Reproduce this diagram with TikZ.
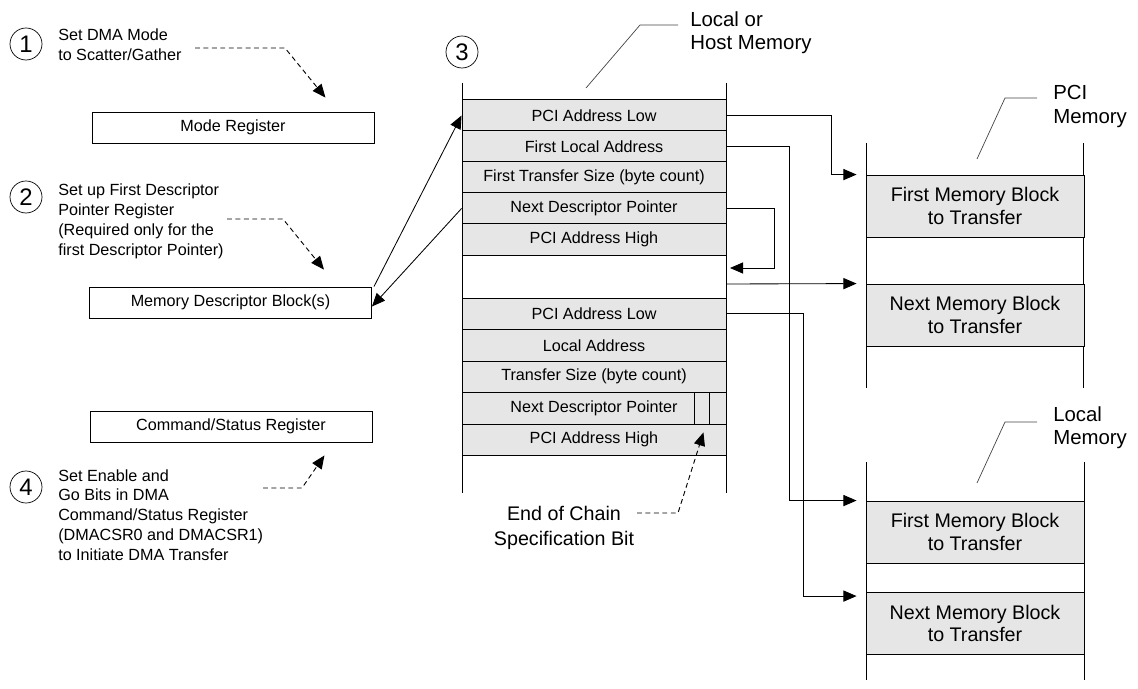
\documentclass[tikz,border=0pt]{standalone}
\usepackage{fontspec}
\setmainfont{Liberation Sans}
\usetikzlibrary{arrows.meta}
\definecolor{rowfill}{HTML}{E6E6E6}
\definecolor{leadline}{HTML}{444444}
\newcommand{\smallface}{\fontsize{11.5}{14.2}\selectfont}
\newcommand{\largeface}{\fontsize{14}{15.8}\selectfont}
\tikzset{
  regbox/.style={draw, line width=0.6pt, minimum width=7.05cm, minimum height=0.775cm, inner sep=0pt, font=\smallface},
  rowbox/.style={draw, fill=rowfill, line width=0.6pt, minimum width=6.6cm, minimum height=0.7875cm, inner sep=0pt, font=\smallface},
  blockbox/.style={draw, fill=rowfill, line width=0.6pt, minimum width=5.45cm, minimum height=1.55cm, inner sep=0pt, align=center, font=\largeface},
  stepnum/.style={circle, draw, line width=0.5pt, minimum size=0.8cm, inner sep=0pt, font=\fontsize{17}{17}\selectfont},
  steptext/.style={anchor=north west, align=left, inner sep=0pt, font=\smallface},
  memlabel/.style={anchor=north west, align=left, inner sep=0pt, font=\fontsize{14.5}{17}\selectfont},
  memwall/.style={line width=0.6pt},
  arr/.style={line width=0.6pt, -{Triangle[length=0.33cm, width=0.28cm]}},
  dasharr/.style={black, line width=0.65pt, dash pattern=on 3.5pt off 2.5pt, -{Triangle[length=0.33cm, width=0.28cm]}},
  leader/.style={line width=0.5pt, leadline}
}

\begin{document}
\begin{tikzpicture}[x=0.025cm, y=-0.025cm]
    \useasboundingbox (0,0) rectangle (1138,689);

    \node[stepnum] (n1) at (26,44) {1};
    \node[steptext] (t1) at (58,29) {Set DMA Mode\\to Scatter/Gather};
    \node[regbox] (modereg) at (233,127.5) {Mode Register};

    \node[stepnum] (n2) at (26,197) {2};
    \node[steptext] (t2) at (58,184) {Set up First Descriptor\\Pointer Register\\(Required only for the\\first Descriptor Pointer)};
    \node[regbox] (mdb) at (230.5,302.5) {Memory Descriptor Block(s)};

    \node[regbox] (csr) at (231,426.5) {Command/Status Register};
    \node[stepnum] (n4) at (26,487) {4};
    \node[steptext] (t4) at (58,469) {Set Enable and\\Go Bits in DMA\\Command/Status Register\\(DMACSR0 and DMACSR1)\\to Initiate DMA Transfer};

    \node[stepnum] (n3) at (462,52) {3};
    \node[memlabel] (hostlbl) at (690,11) {Local or\\Host Memory};
    \draw[leader] (586,88) -- (640,25) -- (678,25);
    \draw[memwall] (462,83) -- (462,493);
    \draw[memwall] (726,83) -- (726,493);

    \node[rowbox] (pal1) at (594,115.5) {PCI Address Low};
    \node[rowbox] (fla) at (594,146.5) {First Local Address};
    \node[rowbox] (fts) at (594,177.5) {First Transfer Size (byte count)};
    \node[rowbox] (ndp1) at (594,208.5) {Next Descriptor Pointer};
    \node[rowbox] (pah1) at (594,239.5) {PCI Address High};

    \node[rowbox] (pal2) at (594,313.75) {PCI Address Low};
    \node[rowbox] (la2) at (594,345.25) {Local Address};
    \node[rowbox] (ts2) at (594,376.75) {Transfer Size (byte count)};
    \node[rowbox] (ndp2) at (594,408.25) {Next Descriptor Pointer};
    \node[rowbox] (pah2) at (594,439.75) {PCI Address High};
    \draw[line width=0.5pt] ([xshift=-0.8cm]ndp2.north east) -- ([xshift=-0.8cm]ndp2.south east);
    \draw[line width=0.5pt] ([xshift=-0.425cm]ndp2.north east) -- ([xshift=-0.425cm]ndp2.south east);

    \node[anchor=north, align=center, inner sep=0pt, font=\fontsize{14}{17.8}\selectfont] (endlbl) at (564,506) {End of Chain\\Specification Bit};

    \node[memlabel] (pcilbl) at (1053,85) {PCI\\Memory};
    \draw[leader] (977,159) -- (1005,98) -- (1037,98);
    \draw[memwall] (866,143) -- (866,388);
    \draw[memwall] (1083,143) -- (1083,388);
    \node[blockbox] (pfirst) at (975,206) {First Memory Block\\to Transfer};
    \node[blockbox] (pnext) at (975,315) {Next Memory Block\\to Transfer};

    \node[memlabel] (locallbl) at (1053,406) {Local\\Memory};
    \draw[leader] (977,483) -- (1005,422) -- (1037,422);
    \draw[memwall] (866,462) -- (866,680);
    \draw[memwall] (1084,462) -- (1084,680);
    \node[blockbox] (lfirst) at (975,532) {First Memory Block\\to Transfer};
    \node[blockbox] (lnext) at (975,623.5) {Next Memory Block\\to Transfer};

    \coordinate (d1) at (195,48);
    \coordinate (d2) at (227,219);
    \coordinate (d4) at (263,488);
    \coordinate (d3) at (637,513);
    \coordinate (chainin) at (730,268);
    \coordinate (chainout) at (726,284);

    \draw[dasharr] (d1) -- ++(90,0) -- ([xshift=-1.225cm, yshift=0.35cm]modereg.north east);
    \draw[dasharr] (d2) -- ++(56,0) -- ([xshift=-1.2cm, yshift=0.425cm]mdb.north east);
    \draw[dasharr] (d4) -- ++(39,0) -- ([xshift=-1.2cm, yshift=-0.325cm]csr.south east);
    \draw[dasharr] (d3) -- ++(41,0) -- ([xshift=-0.575cm, yshift=-0.2cm]ndp2.south east);

    \draw[arr] ([xshift=0.05cm]mdb.north east) -- (pal1.west);
    \draw[arr] (ndp1.west) -- ([yshift=-0.1cm]mdb.east);

    \draw[arr] (pal1.east) -- ++(105,0) |- ([xshift=-0.225cm]pfirst.north west);
    \draw[arr] (fla.east) -- ++(63,0) |- ([xshift=-0.225cm]lfirst.north west);
    \draw[arr] (ndp1.east) -- ++(48,0) |- (chainin);
    \draw[arr] (chainout) -- ([xshift=-0.225cm]pnext.north west);
    \draw[arr] (pal2.east) -- ++(77,0) |- ([xshift=-0.225cm, yshift=-0.1cm]lnext.north west);
\end{tikzpicture}
\end{document}
